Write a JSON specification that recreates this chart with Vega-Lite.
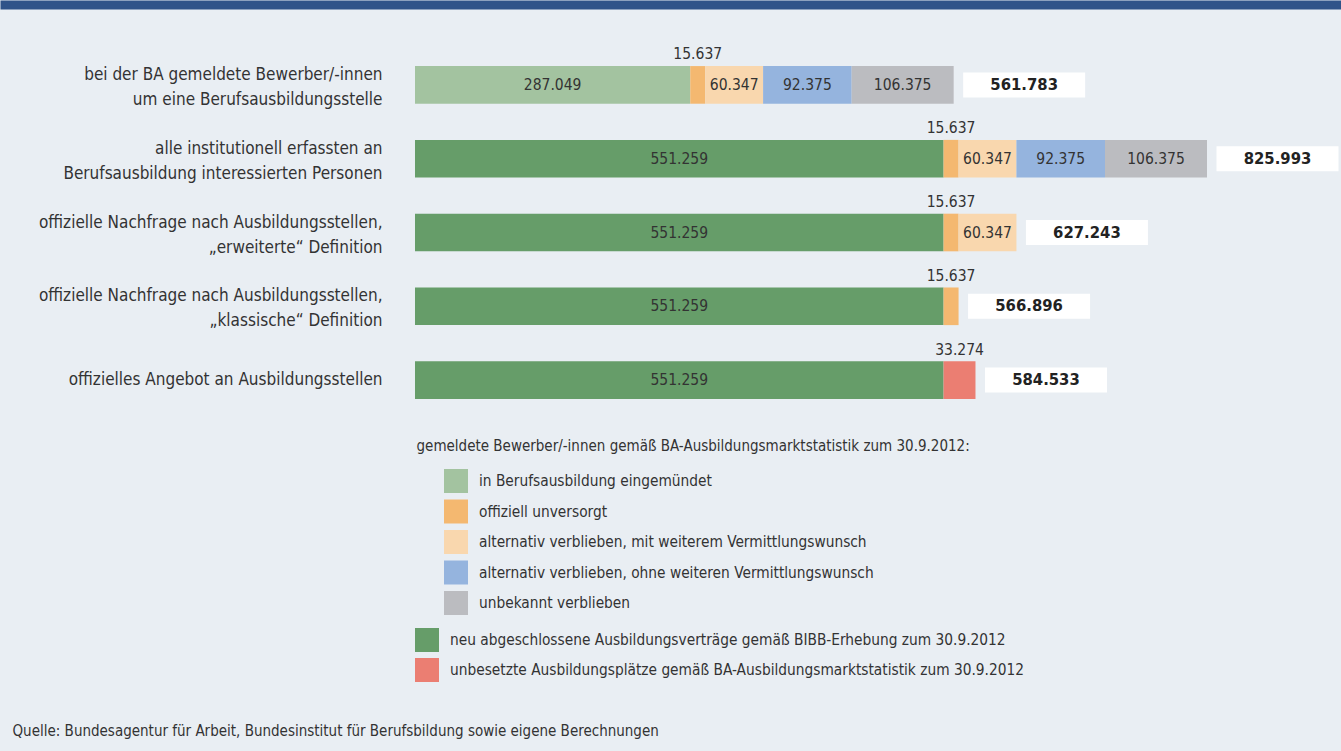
{
  "$schema": "https://vega.github.io/schema/vega-lite/v6.json",
  "width": 1341,
  "height": 369,
  "autosize": {"type": "none"},
  "padding": {"left": 0, "right": 0, "top": 48, "bottom": 334},
  "background": "#e9eef3",
  "config": {
    "font": "DejaVu Sans Condensed, Liberation Sans Narrow, sans-serif",
    "view": {"stroke": null},
    "locale": {"number": {"decimal": ",", "thousands": ".", "grouping": [3], "currency": ["", " €"]}}
  },
  "data": {
    "values": [
      {"row": "bei der BA gemeldete Bewerber/-innen|um eine Berufsausbildungsstelle", "cat": "in Berufsausbildung eingemündet", "value": 287049, "order": 1},
      {"row": "bei der BA gemeldete Bewerber/-innen|um eine Berufsausbildungsstelle", "cat": "offiziell unversorgt", "value": 15637, "order": 2},
      {"row": "bei der BA gemeldete Bewerber/-innen|um eine Berufsausbildungsstelle", "cat": "alternativ verblieben, mit weiterem Vermittlungswunsch", "value": 60347, "order": 3},
      {"row": "bei der BA gemeldete Bewerber/-innen|um eine Berufsausbildungsstelle", "cat": "alternativ verblieben, ohne weiteren Vermittlungswunsch", "value": 92375, "order": 4},
      {"row": "bei der BA gemeldete Bewerber/-innen|um eine Berufsausbildungsstelle", "cat": "unbekannt verblieben", "value": 106375, "order": 5},
      {"row": "alle institutionell erfassten an|Berufsausbildung interessierten Personen", "cat": "neu abgeschlossene Ausbildungsverträge gemäß BIBB-Erhebung zum 30.9.2012", "value": 551259, "order": 1},
      {"row": "alle institutionell erfassten an|Berufsausbildung interessierten Personen", "cat": "offiziell unversorgt", "value": 15637, "order": 2},
      {"row": "alle institutionell erfassten an|Berufsausbildung interessierten Personen", "cat": "alternativ verblieben, mit weiterem Vermittlungswunsch", "value": 60347, "order": 3},
      {"row": "alle institutionell erfassten an|Berufsausbildung interessierten Personen", "cat": "alternativ verblieben, ohne weiteren Vermittlungswunsch", "value": 92375, "order": 4},
      {"row": "alle institutionell erfassten an|Berufsausbildung interessierten Personen", "cat": "unbekannt verblieben", "value": 106375, "order": 5},
      {"row": "offizielle Nachfrage nach Ausbildungsstellen,|„erweiterte“ Definition", "cat": "neu abgeschlossene Ausbildungsverträge gemäß BIBB-Erhebung zum 30.9.2012", "value": 551259, "order": 1},
      {"row": "offizielle Nachfrage nach Ausbildungsstellen,|„erweiterte“ Definition", "cat": "offiziell unversorgt", "value": 15637, "order": 2},
      {"row": "offizielle Nachfrage nach Ausbildungsstellen,|„erweiterte“ Definition", "cat": "alternativ verblieben, mit weiterem Vermittlungswunsch", "value": 60347, "order": 3},
      {"row": "offizielle Nachfrage nach Ausbildungsstellen,|„klassische“ Definition", "cat": "neu abgeschlossene Ausbildungsverträge gemäß BIBB-Erhebung zum 30.9.2012", "value": 551259, "order": 1},
      {"row": "offizielle Nachfrage nach Ausbildungsstellen,|„klassische“ Definition", "cat": "offiziell unversorgt", "value": 15637, "order": 2},
      {"row": "offizielles Angebot an Ausbildungsstellen", "cat": "neu abgeschlossene Ausbildungsverträge gemäß BIBB-Erhebung zum 30.9.2012", "value": 551259, "order": 1},
      {"row": "offizielles Angebot an Ausbildungsstellen", "cat": "unbesetzte Ausbildungsplätze gemäß BA-Ausbildungsmarktstatistik zum 30.9.2012", "value": 33274, "order": 2}
    ]
  },
  "transform": [
    {"stack": "value", "groupby": ["row"], "sort": [{"field": "order", "order": "ascending"}], "as": ["x0", "x1"]},
    {"calculate": "(datum.x0 + datum.x1) / 2", "as": "mid"}
  ],
  "encoding": {
    "y": {
      "field": "row",
      "type": "nominal",
      "scale": {
        "domain": [
          "bei der BA gemeldete Bewerber/-innen|um eine Berufsausbildungsstelle",
          "alle institutionell erfassten an|Berufsausbildung interessierten Personen",
          "offizielle Nachfrage nach Ausbildungsstellen,|„erweiterte“ Definition",
          "offizielle Nachfrage nach Ausbildungsstellen,|„klassische“ Definition",
          "offizielles Angebot an Ausbildungsstellen"
        ],
        "paddingInner": 0.49,
        "paddingOuter": 0.245
      },
      "axis": {
        "title": "gemeldete Bewerber/-innen gemäß BA-Ausbildungsmarktstatistik zum 30.9.2012:",
        "titleX": 34,
        "titleY": 397,
        "titleAngle": 0,
        "titleAlign": "left",
        "titleBaseline": "middle",
        "titleFontSize": 15,
        "titleFontWeight": "normal",
        "titleColor": "#333333",
        "offset": -382,
        "domain": false,
        "ticks": false,
        "grid": false,
        "labelPadding": 0,
        "labelFontSize": 17,
        "labelColor": "#333333",
        "labelLimit": 0,
        "labelExpr": "split(datum.value, '|')",
        "labelLineHeight": 25,
        "labelBaseline": "middle",
        "labelAlign": "right",
        "labelOffset": {"condition": {"test": "indexof(datum.value, '|') >= 0", "value": -10}, "value": 0}
      }
    }
  },
  "layer": [
    {
      "transform": [{"filter": "datum.row == 'bei der BA gemeldete Bewerber/-innen|um eine Berufsausbildungsstelle'"}],
      "mark": {"type": "bar"},
      "encoding": {
        "x": {
          "field": "x0",
          "type": "quantitative",
          "scale": {"domain": [-432810, 965740], "nice": false, "zero": false},
          "axis": {
            "orient": "top",
            "offset": 43.5,
            "domain": true,
            "domainColor": "#2f5389",
            "domainWidth": 9,
            "labels": false,
            "ticks": false,
            "grid": false,
            "title": "Quelle: Bundesagentur für Arbeit, Bundesinstitut für Berufsbildung sowie eigene Berechnungen",
            "titleX": 12,
            "titleY": 725.5,
            "titleAlign": "left",
            "titleBaseline": "middle",
            "titleAngle": 0,
            "titleFontSize": 15,
            "titleFontWeight": "normal",
            "titleColor": "#333333"
          }
        },
        "x2": {"field": "x1"},
        "color": {
          "field": "cat",
          "type": "nominal",
          "scale": {
            "domain": ["in Berufsausbildung eingemündet", "offiziell unversorgt", "alternativ verblieben, mit weiterem Vermittlungswunsch", "alternativ verblieben, ohne weiteren Vermittlungswunsch", "unbekannt verblieben"],
            "range": ["#a3c3a0", "#f4b870", "#f9d7ae", "#95b4de", "#bbbcc0"]
          },
          "legend": {
            "orient": "none",
            "legendX": 444,
            "legendY": 421,
            "title": null,
            "symbolType": "square",
            "symbolSize": 576,
            "symbolStrokeWidth": 0,
            "symbolOpacity": 1,
            "labelFontSize": 15.3,
            "labelColor": "#333333",
            "labelOffset": 11,
            "rowPadding": 6.5,
            "padding": 0,
            "labelLimit": 0
          }
        }
      }
    },
    {
      "transform": [{"filter": "datum.row != 'bei der BA gemeldete Bewerber/-innen|um eine Berufsausbildungsstelle'"}],
      "mark": {"type": "bar"},
      "encoding": {
        "x": {"field": "x0", "type": "quantitative", "scale": {"domain": [-432810, 965740], "nice": false, "zero": false}},
        "x2": {"field": "x1"},
        "color": {
          "field": "cat",
          "type": "nominal",
          "scale": {
            "domain": ["neu abgeschlossene Ausbildungsverträge gemäß BIBB-Erhebung zum 30.9.2012", "unbesetzte Ausbildungsplätze gemäß BA-Ausbildungsmarktstatistik zum 30.9.2012", "offiziell unversorgt", "alternativ verblieben, mit weiterem Vermittlungswunsch", "alternativ verblieben, ohne weiteren Vermittlungswunsch", "unbekannt verblieben"],
            "range": ["#669d69", "#eb7e72", "#f4b870", "#f9d7ae", "#95b4de", "#bbbcc0"]
          },
          "legend": {
            "orient": "none",
            "legendX": 415,
            "legendY": 580,
            "title": null,
            "values": ["neu abgeschlossene Ausbildungsverträge gemäß BIBB-Erhebung zum 30.9.2012", "unbesetzte Ausbildungsplätze gemäß BA-Ausbildungsmarktstatistik zum 30.9.2012"],
            "symbolType": "square",
            "symbolSize": 576,
            "symbolStrokeWidth": 0,
            "symbolOpacity": 1,
            "labelFontSize": 15.3,
            "labelColor": "#333333",
            "labelOffset": 11,
            "rowPadding": 6,
            "padding": 0,
            "labelLimit": 0
          }
        }
      }
    },
    {
      "transform": [{"filter": "datum.value >= 40000"}],
      "mark": {"type": "text", "fontSize": 15.5, "color": "#333333", "align": "center", "baseline": "middle"},
      "encoding": {
        "x": {"field": "mid", "type": "quantitative", "scale": {"domain": [-432810, 965740], "nice": false, "zero": false}},
        "text": {"field": "value", "type": "quantitative", "format": ",d"}
      }
    },
    {
      "transform": [{"filter": "datum.value < 40000"}],
      "mark": {"type": "text", "fontSize": 15.5, "color": "#333333", "align": "center", "baseline": "middle", "dy": -30.5},
      "encoding": {
        "x": {"field": "mid", "type": "quantitative", "scale": {"domain": [-432810, 965740], "nice": false, "zero": false}},
        "text": {"field": "value", "type": "quantitative", "format": ",d"}
      }
    },
    {
      "transform": [{"aggregate": [{"op": "sum", "field": "value", "as": "total"}], "groupby": ["row"]}],
      "mark": {"type": "bar", "color": "#ffffff", "height": 25, "xOffset": 9.5, "x2Offset": 131.5},
      "encoding": {
        "x": {"field": "total", "type": "quantitative", "scale": {"domain": [-432810, 965740], "nice": false, "zero": false}},
        "x2": {"field": "total"}
      }
    },
    {
      "transform": [{"aggregate": [{"op": "sum", "field": "value", "as": "total"}], "groupby": ["row"]}],
      "mark": {"type": "text", "fontSize": 16.5, "fontWeight": "bold", "color": "#222222", "align": "center", "baseline": "middle", "dx": 70.5},
      "encoding": {
        "x": {"field": "total", "type": "quantitative", "scale": {"domain": [-432810, 965740], "nice": false, "zero": false}},
        "text": {"field": "total", "type": "quantitative", "format": ",d"}
      }
    }
  ],
  "resolve": {"scale": {"color": "independent"}}
}
